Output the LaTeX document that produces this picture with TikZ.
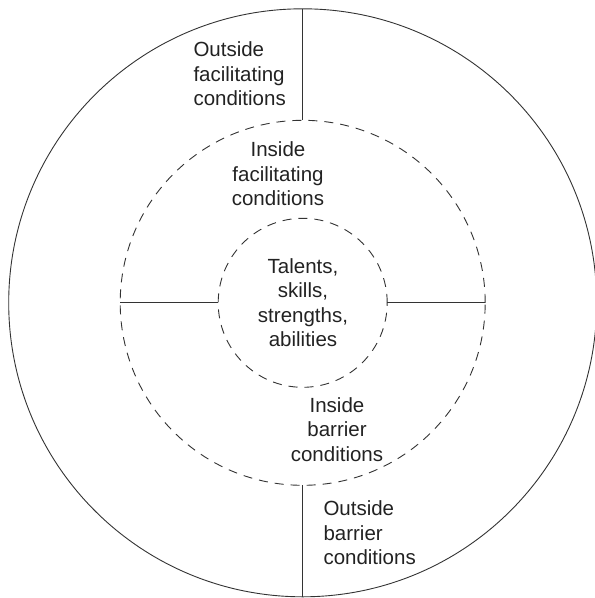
\documentclass[tikz,border=0pt]{standalone}
\usepackage{fontspec}
\setmainfont{Liberation Sans}
\definecolor{ink}{HTML}{222222}
\definecolor{linec}{HTML}{333333}
\begin{document}
\begin{tikzpicture}[x=1pt,y=-1pt,
  ring/.style={circle,draw=linec,line width=0.9pt,inner sep=0pt,outer sep=0pt},
  dashring/.style={ring,dash pattern=on 9pt off 7pt},
  divider/.style={draw=linec,line width=0.9pt},
  lbl/.style={inner sep=0pt,text=ink,font=\fontsize{20.5}{24.5}\selectfont},
  lblc/.style={lbl,align=center,anchor=base},
  lbll/.style={lbl,align=left,anchor=base west}]
\useasboundingbox (0,0) rectangle (595,598);
\node[ring,minimum size=588pt] (outer) at (302.7,302.8) {};
\node[dashring,minimum size=365pt] (mid) at (302.7,302.8) {};
\node[dashring,minimum size=169pt] (inner) at (302.7,302.8) {};
\draw[divider] (outer.north) -- (mid.north);
\draw[divider] (mid.south) -- (outer.south);
\draw[divider] (mid.west) -- (inner.west);
\draw[divider] (inner.east) -- (mid.east);
\node[lbll] (of) at (193.3,105.5) {Outside\\facilitating\\conditions};
\node[lblc] (if) at (278,205.7) {Inside\\facilitating\\conditions};
\node[lblc] (core) at (303,346.7) {Talents,\\skills,\\strengths,\\abilities};
\node[lblc] (ib) at (337,461.2) {Inside\\barrier\\conditions};
\node[lbll] (ob) at (323.3,564.5) {Outside\\barrier\\conditions};
\end{tikzpicture}
\end{document}
